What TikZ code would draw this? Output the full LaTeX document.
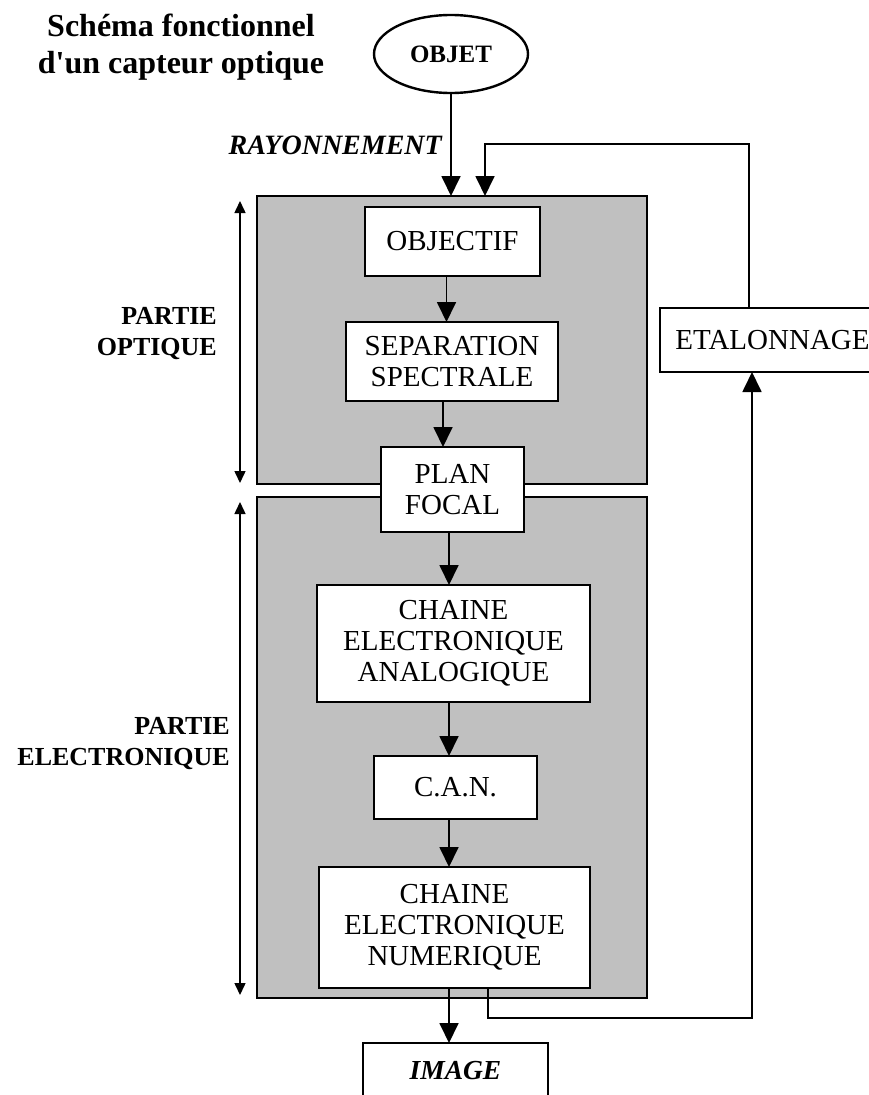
\documentclass[tikz,border=0pt]{standalone}
\usepackage{fontspec}
\setmainfont{Liberation Serif}
\newfontfamily\titlefont{Liberation Serif}[Ligatures=TeXOff]
\usetikzlibrary{arrows.meta,shapes.geometric}
\definecolor{panelgrey}{HTML}{C0C0C0}
\begin{document}
\begin{tikzpicture}[x=1pt,y=-1pt,
  panel/.style={draw, fill=panelgrey, line width=2.6pt, inner sep=0pt, outer sep=0pt},
  box/.style={draw, fill=white, line width=2.6pt, inner sep=0pt, outer sep=0pt, align=center,
    font=\fontsize{29}{31}\selectfont},
  label/.style={font=\fontsize{26}{31}\selectfont\bfseries, inner sep=0pt, align=right},
  flow/.style={line width=1.8pt, -{Triangle[length=20pt,width=19pt]}},
  span/.style={line width=1.5pt, {Triangle[length=12pt,width=11pt]}-{Triangle[length=12pt,width=11pt]}}
]
\useasboundingbox (0,0) rectangle (869,1095);

% grey panels
\node[panel, minimum width=390pt, minimum height=288pt] (g1) at (452,340) {};
\node[panel, minimum width=390pt, minimum height=501pt] (g2) at (452,747.5) {};

% title
\node[font=\titlefont\fontsize{32}{37}\selectfont\bfseries, align=center, inner sep=0pt] (title) at (181,47)
  {Schéma fonctionnel\\d'un capteur optique};

% object
\node[draw, ellipse, line width=2.4pt, fill=white, minimum width=154pt, minimum height=78pt,
  inner sep=0pt, outer sep=0pt, font=\fontsize{25}{30}\selectfont\bfseries] (obj) at (451,54) {OBJET};

\node[font=\fontsize{28}{30}\selectfont\bfseries\itshape, inner sep=0pt, anchor=east] (ray) at (442,145) {RAYONNEMENT};

% boxes
\node[box, minimum width=175pt, minimum height=69pt] (objectif) at (452.5,241.5) {OBJECTIF};
\node[box, minimum width=212pt, minimum height=79pt] (sep) at (452,361.5) {SEPARATION\\SPECTRALE};
\node[box, minimum width=143pt, minimum height=85pt] (plan) at (452.5,489.5) {PLAN\\FOCAL};
\node[box, minimum width=273pt, minimum height=117pt] (analog) at (453.5,643.5) {CHAINE\\ELECTRONIQUE\\ANALOGIQUE};
\node[box, minimum width=163pt, minimum height=63pt] (can) at (455.5,787.5) {C.A.N.};
\node[box, minimum width=271pt, minimum height=121pt] (num) at (454.5,927.5) {CHAINE\\ELECTRONIQUE\\NUMERIQUE};
\node[box, minimum width=185pt, minimum height=56pt, font=\fontsize{27.5}{31}\selectfont\bfseries\itshape] (image) at (455.5,1071) {IMAGE};
\node[box, minimum width=225pt, minimum height=64pt] (etal) at (772.5,340) {ETALONNAGE};

% side labels
\node[label, anchor=east] (popt) at (217,334) {PARTIE\\OPTIQUE};
\node[label, anchor=east] (pelec) at (230,744) {PARTIE\\ELECTRONIQUE};

% span arrows
\draw[span] ([xshift=-17pt,yshift=-5pt]g1.north west) -- ([xshift=-17pt,yshift=1pt]g1.south west);
\draw[span] ([xshift=-17pt,yshift=-5pt]g2.north west) -- ([xshift=-17pt,yshift=3pt]g2.south west);

% flow arrows
\draw[flow] (obj.south) -- (obj.south |- g1.north);
\draw[flow] ([xshift=-6pt]objectif.south) -- ([xshift=-6pt]objectif.south |- sep.north);
\draw[flow] ([xshift=-9pt]sep.south) -- ([xshift=-9pt]sep.south |- plan.north);
\draw[flow] ([xshift=-3.5pt]plan.south) -- ([xshift=-3.5pt]plan.south |- analog.north);
\draw[flow] ([xshift=-4.5pt]analog.south) -- ([xshift=-4.5pt]analog.south |- can.north);
\draw[flow] ([xshift=-6.5pt]can.south) -- ([xshift=-6.5pt]can.south |- num.north);
\draw[flow] ([xshift=-5.5pt]num.south) -- ([xshift=-5.5pt]num.south |- image.north);

% feedback loop
\draw[flow] ([xshift=33.5pt]num.south) -- ++(0,30) -| ([xshift=-20.5pt]etal.south);
\draw[flow] ([xshift=-23.5pt]etal.north) -- ++(0,-164) -| ([xshift=33pt]g1.north);
\end{tikzpicture}
\end{document}
